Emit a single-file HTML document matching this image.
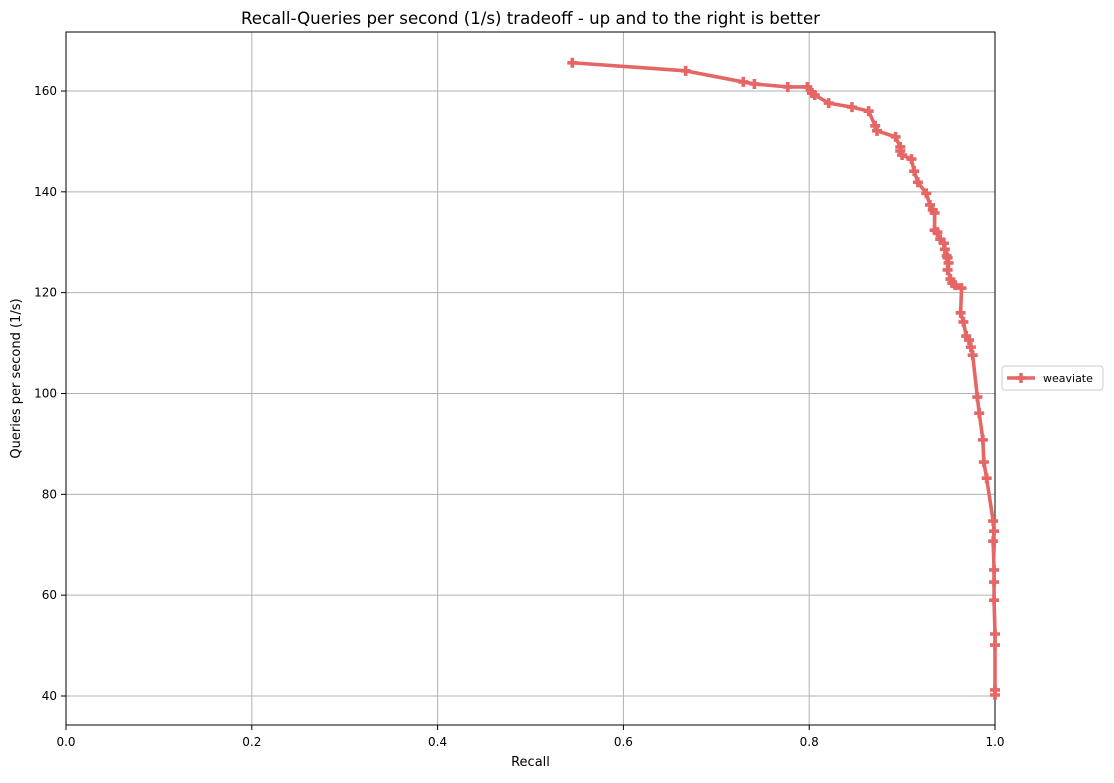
<!DOCTYPE html>
<html><head><meta charset="utf-8"><style>
body{margin:0;background:#fff;font-family:"Liberation Sans","DejaVu Sans",sans-serif}
svg text{font-family:"DejaVu Sans","Liberation Sans",sans-serif}
</style></head><body>
<svg id="chart" width="1114" height="778" xmlns="http://www.w3.org/2000/svg">
<rect width="1114" height="778" fill="#fff"/>
<g id="grid"></g>
<rect x="66" y="32" width="929" height="693" fill="none" stroke="#000" stroke-width="1"/>
<g id="axes"></g>
<g id="series"></g>
<text x="530.5" y="24" text-anchor="middle" font-size="16.6">Recall-Queries per second (1/s) tradeoff - up and to the right is better</text>
<text x="530.5" y="766" text-anchor="middle" font-size="13">Recall</text>
<text transform="translate(20,378.5) rotate(-90)" text-anchor="middle" font-size="13">Queries per second (1/s)</text>
<g>
<rect x="1002" y="366" width="101" height="24" rx="3" fill="#fff" stroke="#ccc"/>
<line x1="1007" y1="378" x2="1035" y2="378" stroke="#e66565" stroke-width="3.5"/>
<path d="M1021 373v10M1016 378h10" stroke="#e66565" stroke-width="3.5"/>
<text x="1043" y="382" font-size="11">weaviate</text>
</g>
</svg>
<script>
const recall=[0.545,0.667,0.729,0.741,0.777,0.798,0.803,0.806,0.821,0.846,0.864,0.871,0.873,0.893,0.898,0.898,0.900,0.910,0.913,0.917,0.926,0.930,0.933,0.935,0.935,0.938,0.941,0.945,0.946,0.948,0.949,0.950,0.949,0.952,0.954,0.957,0.964,0.963,0.966,0.969,0.972,0.974,0.976,0.981,0.983,0.987,0.988,0.991,0.998,0.999,0.998,0.999,0.999,0.999,1.0,1.0,1.0,1.0];
const qps=[165.6,164.0,161.8,161.4,160.8,160.8,159.6,159.2,157.6,156.8,156.0,153.1,152.1,150.9,148.9,148.1,147.3,146.5,144.1,141.9,139.7,137.4,136.4,135.8,132.4,132.0,130.6,129.8,128.6,127.3,126.9,125.9,124.5,122.7,121.9,121.5,120.9,116.0,114.2,111.4,110.6,109.2,107.6,99.3,96.1,90.8,86.4,83.2,74.7,72.7,70.7,65.0,62.6,59.0,52.3,50.1,41.2,40.2];
const xTicks=[0,0.2,0.4,0.6,0.8,1.0];
const xTickLabels=["0.0","0.2","0.4","0.6","0.8","1.0"];
const yTicks=[40,60,80,100,120,140,160];
const NS="http://www.w3.org/2000/svg";
const X=v=>66+v*929;
const Y=v=>91+(160-v)*(605/120);
function mk(t,a,p){const e=document.createElementNS(NS,t);for(const k in a)e.setAttribute(k,a[k]);p.appendChild(e);return e;}
const grid=document.getElementById('grid'),axes=document.getElementById('axes'),ser=document.getElementById('series');
xTicks.forEach((v,i)=>{
 const g=mk('line',{x1:X(v),x2:X(v),y1:32,y2:725,stroke:'#b0b0b0','stroke-width':1},grid);
 
 
 const t=mk('line',{x1:X(v),x2:X(v),y1:725,y2:730,stroke:'#000'},axes);
 
 
 const l=mk('text',{x:X(v),y:746,'text-anchor':'middle','font-size':12},axes);l.textContent=xTickLabels[i];
 
 
});
yTicks.forEach(v=>{
 const g=mk('line',{x1:66,x2:995,y1:Y(v),y2:Y(v),stroke:'#b0b0b0','stroke-width':1},grid);
 
 
 const t=mk('line',{x1:61,x2:66,y1:Y(v),y2:Y(v),stroke:'#000'},axes);
 
 
 const l=mk('text',{x:57,y:Y(v)+4,'text-anchor':'end','font-size':12},axes);l.textContent=v;
 
 
});
const pts=recall.map((r,i)=>X(r)+','+Y(qps[i])).join(' ');
const line=mk('polyline',{points:pts,fill:'none',stroke:'#e66565','stroke-width':3.6,'stroke-linejoin':'round'},ser);


recall.forEach((r,i)=>{
 const x=X(r),y=Y(qps[i]);
 const m=mk('path',{d:`M${x} ${y-5}v10M${x-5} ${y}h10`,stroke:'#e66565','stroke-width':3.6},ser);
 
 
});
</script>
</body></html>
